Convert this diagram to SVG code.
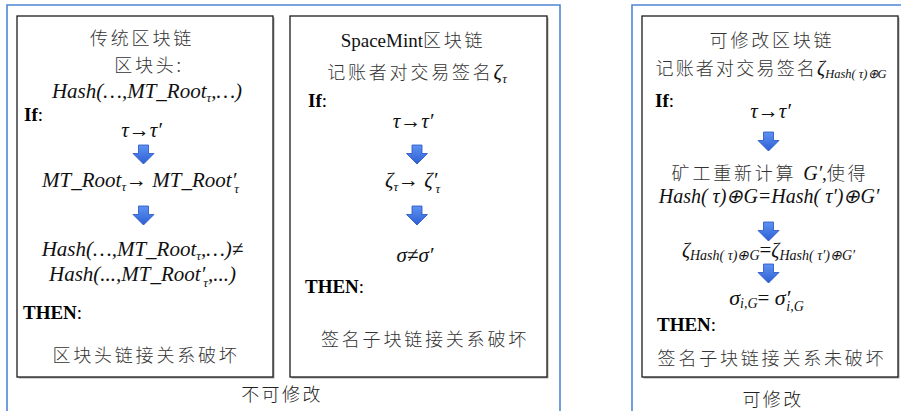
<svg xmlns="http://www.w3.org/2000/svg" width="901" height="411" viewBox="0 0 901 411">
<style>
.frame{fill:none;stroke:#4f86d6;stroke-width:1.6}
.box{fill:#fff;stroke:#1c1c1c;stroke-width:1.3}
.shadow{fill:#a8a8a8}
.cn{font-family:"Noto Sans CJK SC","Noto Sans",sans-serif;font-size:18px;font-weight:300;letter-spacing:2.8px;fill:#333}
.m{font-family:"Liberation Serif","Times New Roman",serif;font-style:italic;font-size:21px;fill:#111}
.r{font-family:"Liberation Serif","Times New Roman",serif;font-size:19px;fill:#111}
.b{font-family:"Liberation Serif","Times New Roman",serif;font-weight:bold;font-size:19px;fill:#000}
.s{font-size:13px}
.lbl{font-family:"Noto Sans CJK SC","Noto Sans",sans-serif;font-size:18px;font-weight:300;letter-spacing:2.4px;fill:#222}
.arr{fill:url(#ag);stroke:#2650c4;stroke-width:0.8}
</style>
<defs>
<linearGradient id="ag" x1="0" y1="0" x2="0" y2="1">
<stop offset="0" stop-color="#5e93f2"/>
<stop offset="1" stop-color="#2d5fd4"/>
</linearGradient>
<path id="dn" d="M-5,0 H5 V8.5 H10.5 L0,19 L-10.5,8.5 H-5 Z"/>
</defs>

<g id="frames">
<path class="frame" d="M7,411 V5 H560 V411"/>
<path class="frame" d="M632,411 V5 H901"/>
</g>

<g id="box-traditional">
<rect class="shadow" x="18.5" y="17.5" width="256" height="361"/>
<rect class="box" x="17" y="16" width="256" height="361"/>
<text class="cn" x="142" y="45" text-anchor="middle">传统区块链</text>
<text class="cn" x="149" y="72" text-anchor="middle">区块头:</text>
<text class="m" x="147" y="98" text-anchor="middle">Hash(…,MT_Root<tspan class="s" dy="4">τ</tspan><tspan dy="-4">,…)</tspan></text>
<text class="b" x="24" y="121">If<tspan font-weight="normal">:</tspan></text>
<text class="m" x="141.5" y="137" text-anchor="middle">τ<tspan font-style="normal">→</tspan>τ′</text>
<use href="#dn" class="arr" x="143.5" y="145"/>
<text class="m" x="140.5" y="187" text-anchor="middle">MT_Root<tspan class="s" dy="4">τ</tspan><tspan font-style="normal" dy="-4">→ </tspan>MT_Root′<tspan class="s" dx="-2" dy="6">τ</tspan></text>
<use href="#dn" class="arr" x="143.5" y="206"/>
<text class="m" x="142.5" y="256" text-anchor="middle">Hash(…,MT_Root<tspan class="s" dy="4">τ</tspan><tspan dy="-4">,…)≠</tspan></text>
<text class="m" x="142.5" y="281" text-anchor="middle">Hash(...,MT_Root′<tspan class="s" dx="-2" dy="6">τ</tspan><tspan dy="-6">,...)</tspan></text>
<text class="b" x="23" y="319">THEN<tspan font-weight="normal">:</tspan></text>
<text class="cn" x="146" y="362" text-anchor="middle">区块头链接关系破坏</text>
</g>

<g id="box-spacemint">
<rect class="shadow" x="291.5" y="17.5" width="257" height="361"/>
<rect class="box" x="290" y="16" width="257" height="361"/>
<text x="413" y="47" text-anchor="middle"><tspan class="r">SpaceMint</tspan><tspan class="cn">区块链</tspan></text>
<text x="417" y="79" text-anchor="middle"><tspan class="cn">记账者对交易签名</tspan><tspan class="m">ζ</tspan><tspan class="m s" dy="4">τ</tspan></text>
<text class="b" x="308" y="107">If<tspan font-weight="normal">:</tspan></text>
<text class="m" x="413" y="128" text-anchor="middle">τ<tspan font-style="normal">→</tspan>τ′</text>
<use href="#dn" class="arr" x="417" y="145"/>
<text class="m" x="412.5" y="187" text-anchor="middle">ζ<tspan class="s" dy="4">τ</tspan><tspan font-style="normal" dy="-4">→ </tspan>ζ′<tspan class="s" dx="-2" dy="6">τ</tspan></text>
<use href="#dn" class="arr" x="417" y="206"/>
<text class="m" x="415" y="262" text-anchor="middle">σ<tspan font-style="normal">≠</tspan>σ′</text>
<text class="b" x="305" y="293">THEN<tspan font-weight="normal">:</tspan></text>
<text class="cn" x="425" y="346" text-anchor="middle">签名子块链接关系破坏</text>
</g>

<g id="box-redactable">
<rect class="shadow" x="643.5" y="17.5" width="256" height="361"/>
<rect class="box" x="642" y="16" width="256" height="361"/>
<text class="cn" x="772" y="47" text-anchor="middle">可修改区块链</text>
<text x="771" y="75" text-anchor="middle"><tspan class="cn" style="letter-spacing:2.2px">记账者对交易签名</tspan><tspan class="m" style="font-size:20px">ζ</tspan><tspan class="m" style="font-size:12.5px" dy="3">Hash( τ)⊕G</tspan></text>
<text class="b" x="655" y="107">If<tspan font-weight="normal">:</tspan></text>
<text class="m" x="770.5" y="118" text-anchor="middle">τ<tspan font-style="normal">→</tspan>τ′</text>
<use href="#dn" class="arr" x="768.5" y="132"/>
<text x="770" y="180" text-anchor="middle"><tspan class="cn">矿工重新计算 </tspan><tspan class="m" style="font-size:20px">G′</tspan><tspan class="r">,</tspan><tspan class="cn">使得</tspan></text>
<text class="m" x="769" y="203" text-anchor="middle" style="font-size:20px">Hash( τ)⊕G=Hash( τ′)⊕G′</text>
<use href="#dn" class="arr" x="768.5" y="222"/>
<text class="m" x="768.5" y="257" text-anchor="middle"><tspan style="font-size:20px">ζ</tspan><tspan style="font-size:14px" dy="3">Hash( τ)⊕G</tspan><tspan font-style="normal" dy="-3">=</tspan><tspan style="font-size:20px">ζ</tspan><tspan style="font-size:14px" dy="3">Hash( τ′)⊕G′</tspan></text>
<use href="#dn" class="arr" x="768.5" y="264"/>
<text class="m" x="766.5" y="305" text-anchor="middle"><tspan style="font-size:22px">σ</tspan><tspan style="font-size:14px" dy="3">i,G</tspan><tspan font-style="normal" dy="-3">= </tspan><tspan style="font-size:22px">σ′</tspan><tspan style="font-size:14px" dx="-4" dy="6">i,G</tspan></text>
<text class="b" x="657" y="331">THEN<tspan font-weight="normal">:</tspan></text>
<text class="cn" x="772" y="365" text-anchor="middle">签名子块链接关系未破坏</text>
</g>

<g id="labels">
<text class="lbl" x="282" y="401" text-anchor="middle">不可修改</text>
<text class="lbl" x="773" y="406" text-anchor="middle">可修改</text>
</g>
</svg>
